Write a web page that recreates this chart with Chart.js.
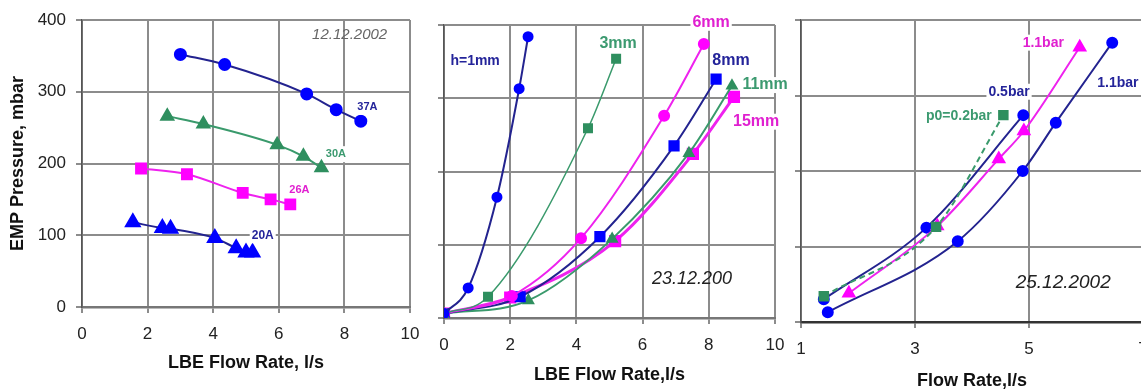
<!DOCTYPE html>
<html>
<head>
<meta charset="utf-8">
<script src="https://cdn.jsdelivr.net/npm/chart.js@4"></script>
<style>
  body { margin: 0; background: #fff; width: 1141px; height: 392px; overflow: hidden; position: relative; }
  .panel { position: absolute; top: 0; }
</style>
</head>
<body>
<div class="panel" style="left:0px"><canvas id="c1" width="420" height="392"></canvas></div>
<div class="panel" style="left:420px"><canvas id="c2" width="380" height="392"></canvas></div>
<div class="panel" style="left:780px"><canvas id="c3" width="380" height="392"></canvas></div>
<script>
// panel 1 - 12.12.2002, EMP pressure vs LBE flow at several currents
const p1Flow37 = [3.0, 4.35, 6.85, 7.75, 8.5];
const p1Pres37 = [352, 338, 297, 275, 259];
const p1Flow30 = [2.6, 3.7, 5.95, 6.75, 7.3];
const p1Pres30 = [266, 255, 226, 210, 194];
const p1Flow26 = [1.8, 3.2, 4.9, 5.75, 6.35];
const p1Pres26 = [193, 185, 159, 150, 143];
const p1Flow20 = [1.55, 2.45, 2.7, 4.05, 4.7, 5.0, 5.2];
const p1Pres20 = [118, 110, 109, 96, 82, 76, 76];
const p1XTicks = [0, 2, 4, 6, 8, 10];
const p1YTicks = [0, 100, 200, 300, 400];

// panel 2 - 23.12.200, different gaps h
const p2Flow1 = [0, 0.73, 1.6, 2.27, 2.54];
const p2Pres1 = [6, 41, 165, 313, 384];
const p2Flow3 = [0, 1.33, 4.35, 5.2];
const p2Pres3 = [6, 29, 259, 354];
const p2Flow6 = [0, 2.05, 4.14, 6.65, 7.85];
const p2Pres6 = [6, 30, 109, 276, 374];
const p2Flow8 = [0, 2.3, 4.71, 6.95, 8.22];
const p2Pres8 = [6, 29, 111, 235, 326];
const p2Flow11 = [0, 2.55, 5.08, 7.4, 8.7];
const p2Pres11 = [6, 24, 108, 225, 317];
const p2Flow15 = [0, 2.0, 5.17, 7.52, 8.76];
const p2Pres15 = [6, 28, 105, 224, 302];
const p2XTicks = [0, 2, 4, 6, 8, 10];

// panel 3 - 25.12.2002, inlet pressure p0
const p3Flow02 = [1.4, 3.37, 4.55];
const p3Pres02 = [34, 126, 274];
const p3Flow05 = [1.4, 3.2, 4.9];
const p3Pres05 = [30, 125, 274];
const p3Flow11m = [1.84, 3.39, 4.47, 4.91, 5.89];
const p3Pres11m = [38, 127, 216, 253, 364];
const p3Flow11b = [1.47, 3.75, 4.89, 5.47, 6.46];
const p3Pres11b = [13, 107, 200, 264, 370];
const p3XTicks = [1, 3, 5, 7];

// text notes placed in data units
const p1Notes = [
    { text: '37A', x: 8.7, y: 279, color: '#24249a', font: 'bold 11px "Liberation Sans", Arial', bg: true },
    { text: '30A', x: 7.74, y: 213, color: '#3c9a70', font: 'bold 11px "Liberation Sans", Arial', bg: true },
    { text: '26A', x: 6.63, y: 163, color: '#e020d0', font: 'bold 11px "Liberation Sans", Arial', bg: true },
    { text: '20A', x: 5.51, y: 100, color: '#24249a', font: 'bold 12px "Liberation Sans", Arial', bg: true },
    { text: '12.12.2002', x: 8.16, y: 380, color: '#666', font: 'italic 15px "Liberation Sans", Arial' }
];
const p2Notes = [
    { text: 'h=1mm', x: 0.94, y: 351, color: '#24249a', font: 'bold 14px "Liberation Sans", Arial', bg: true },
    { text: '3mm', x: 5.26, y: 375, color: '#3c9a70', font: 'bold 16px "Liberation Sans", Arial', bg: true },
    { text: '6mm', x: 8.07, y: 403, color: '#e020d0', font: 'bold 16px "Liberation Sans", Arial', bg: true },
    { text: '8mm', x: 8.67, y: 351, color: '#24249a', font: 'bold 16px "Liberation Sans", Arial', bg: true },
    { text: '11mm', x: 9.7, y: 318, color: '#3c9a70', font: 'bold 16px "Liberation Sans", Arial', bg: true },
    { text: '15mm', x: 9.43, y: 268, color: '#e020d0', font: 'bold 16px "Liberation Sans", Arial', bg: true },
    { text: '23.12.200', x: 7.49, y: 53, color: '#222', font: 'italic 18px "Liberation Sans", Arial' }
];
const p3Notes = [
    { text: '1.1bar', x: 5.25, y: 370, color: '#e020d0', font: 'bold 14px "Liberation Sans", Arial', bg: true },
    { text: '1.1bar', x: 6.56, y: 317, color: '#24249a', font: 'bold 14px "Liberation Sans", Arial', bg: true },
    { text: '0.5bar', x: 4.65, y: 305, color: '#24249a', font: 'bold 14px "Liberation Sans", Arial', bg: true },
    { text: 'p0=0.2bar', x: 3.77, y: 272, color: '#3c9a70', font: 'bold 14px "Liberation Sans", Arial', bg: true },
    { text: '25.12.2002', x: 5.6, y: 52, color: '#222', font: 'italic 19px "Liberation Sans", Arial' }
];

const FONT = '"Liberation Sans", Arial, sans-serif';
const NAVY = '#23238f', BLUE = '#0000ff', GREEN = '#3a9a6c', GREEN_PT = '#2f8f5f', MAG = '#ee22ee', MAG_PT = '#ff00ff';

const notesPlugin = {
    id: 'notes',
    afterDatasetsDraw(chart, args, opts) {
        const ctx = chart.ctx, x = chart.scales.x, y = chart.scales.y;
        (opts.items || []).forEach(n => {
            const px = x.getPixelForValue(n.x), py = y.getPixelForValue(n.y);
            ctx.save();
            ctx.font = n.font;
            ctx.textAlign = 'center';
            ctx.textBaseline = 'middle';
            if (n.bg) {
                const w = ctx.measureText(n.text).width;
                ctx.fillStyle = '#fff';
                ctx.fillRect(px - w / 2 - 2, py - 8, w + 4, 16);
            }
            ctx.fillStyle = n.color;
            ctx.fillText(n.text, px, py);
            ctx.restore();
        });
    }
};

const pts = (xs, ys) => xs.map((v, i) => ({ x: v, y: ys[i] }));

const series = (xs, ys, line, pt, style, r, extra) => Object.assign({
    data: pts(xs, ys),
    showLine: true,
    borderColor: line,
    borderWidth: 2,
    backgroundColor: pt,
    pointBackgroundColor: pt,
    pointBorderColor: pt,
    pointStyle: style,
    pointRadius: r,
    cubicInterpolationMode: 'monotone'
}, extra || {});

function axisX(min, max, ticks, h, title, titlePad, axisColor) {
    return {
        type: 'linear', min: min, max: max,
        afterBuildTicks: s => { s.ticks = ticks.map(v => ({ value: v })); },
        afterFit: s => { s.height = h; s.paddingLeft = 0; s.paddingRight = 0; },
        ticks: { color: '#222', font: { family: FONT, size: 17 }, padding: 11 },
        grid: { color: '#8c8c8c', lineWidth: 2, tickLength: 6 },
        border: { color: axisColor, width: 2.5 },
        title: { display: true, text: title, color: '#111', font: { family: FONT, size: 18, weight: 'bold' }, padding: { top: 0, bottom: titlePad } }
    };
}

function axisY(w, labels, ticks) {
    const y = {
        min: 0, max: 400,
        afterBuildTicks: s => { s.ticks = ticks.map(v => ({ value: v })); },
        afterFit: s => { s.width = w; s.paddingTop = 0; s.paddingBottom = 0; },
        ticks: { display: labels, color: '#222', font: { family: FONT, size: 17 }, padding: 10 },
        grid: { color: '#8c8c8c', lineWidth: 2, tickLength: 6 },
        border: { color: '#555', width: 1.5 }
    };
    if (labels) {
        y.title = { display: true, text: 'EMP Pressure, mbar', color: '#111', font: { family: FONT, size: 18, weight: 'bold' }, padding: { top: 7, bottom: 0 } };
    }
    return y;
}

function makeChart(id, datasets, x, y, pad, notes) {
    return new Chart(document.getElementById(id), {
        type: 'scatter',
        data: { datasets: datasets },
        options: {
            responsive: false,
            animation: false,
            layout: { padding: pad },
            scales: { x: x, y: y },
            plugins: { legend: { display: false }, tooltip: { enabled: false }, notes: { items: notes } }
        },
        plugins: [notesPlugin]
    });
}

makeChart('c1', [
    series(p1Flow37, p1Pres37, NAVY, BLUE, 'circle', 5.5),
    series(p1Flow30, p1Pres30, GREEN, GREEN_PT, 'triangle', 7),
    series(p1Flow26, p1Pres26, MAG, MAG_PT, 'rect', 7),
    series(p1Flow20, p1Pres20, NAVY, BLUE, 'triangle', 8)
], axisX(0, 10, p1XTicks, 85, 'LBE Flow Rate, l/s', 18, '#777'), axisY(82, true, p1YTicks),
    { left: 0, right: 6, top: 20, bottom: 0 }, p1Notes);

makeChart('c2', [
    series(p2Flow1, p2Pres1, NAVY, BLUE, 'circle', 4.5),
    series(p2Flow3, p2Pres3, GREEN, GREEN_PT, 'rect', 6, { borderWidth: 1.5 }),
    series(p2Flow6, p2Pres6, MAG, MAG_PT, 'circle', 5),
    series(p2Flow8, p2Pres8, NAVY, BLUE, 'rect', 6.5),
    series(p2Flow11, p2Pres11, GREEN, GREEN_PT, 'triangle', 5.5),
    series(p2Flow15, p2Pres15, MAG, MAG_PT, 'rect', 6.5, { borderWidth: 3 })
], axisX(0, 10, p2XTicks, 74, 'LBE Flow Rate,l/s', 6, '#777'), axisY(24, false, p1YTicks),
    { left: 0, right: 25, top: 25, bottom: 0 }, p2Notes);

makeChart('c3', [
    series(p3Flow02, p3Pres02, GREEN, GREEN_PT, 'rect', 6, { borderDash: [6, 4] }),
    series(p3Flow11m, p3Pres11m, MAG, MAG_PT, 'triangle', 6.5),
    series(p3Flow05, p3Pres05, NAVY, BLUE, 'circle', 5),
    series(p3Flow11b, p3Pres11b, NAVY, BLUE, 'circle', 5)
], axisX(1, 7, p3XTicks, 70, 'Flow Rate,l/s', 0, '#333'), axisY(21, false, p1YTicks),
    { left: 0, right: 17, top: 20, bottom: 0 }, p3Notes);
</script>
</body>
</html>
